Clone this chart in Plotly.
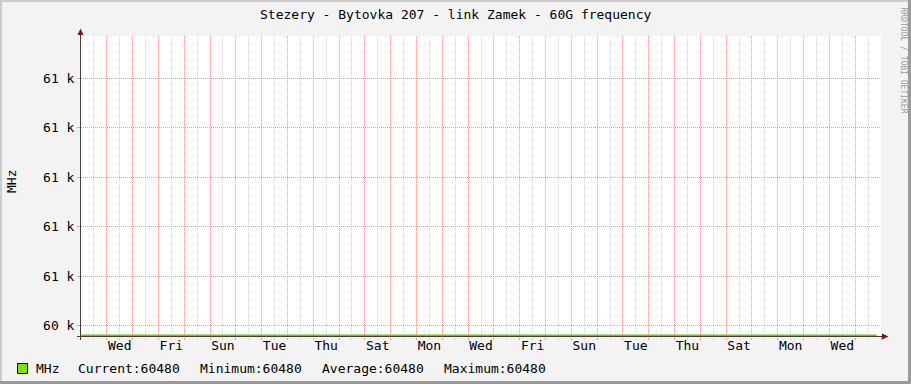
import plotly.graph_objects as go
from datetime import datetime, timedelta

# ---------------- data ----------------
sample_times = [
    "2024-01-02 00:00", "2024-01-03 00:00", "2024-01-04 00:00", "2024-01-05 00:00",
    "2024-01-06 00:00", "2024-01-07 00:00", "2024-01-08 00:00", "2024-01-09 00:00",
    "2024-01-10 00:00", "2024-01-11 00:00", "2024-01-12 00:00", "2024-01-13 00:00",
    "2024-01-14 00:00", "2024-01-15 00:00", "2024-01-16 00:00", "2024-01-17 00:00",
    "2024-01-18 00:00", "2024-01-19 00:00", "2024-01-20 00:00", "2024-01-21 00:00",
    "2024-01-22 00:00", "2024-01-23 00:00", "2024-01-24 00:00", "2024-01-25 00:00",
    "2024-01-26 00:00", "2024-01-27 00:00", "2024-01-28 00:00", "2024-01-29 00:00",
    "2024-01-30 00:00", "2024-01-31 00:00", "2024-02-01 00:00", "2024-02-01 20:00",
]
mhz_values = [
    60480, 60480, 60480, 60480, 60480, 60480, 60480, 60480,
    60480, 60480, 60480, 60480, 60480, 60480, 60480, 60480,
    60480, 60480, 60480, 60480, 60480, 60480, 60480, 60480,
    60480, 60480, 60480, 60480, 60480, 60480, 60480, 60480,
]
x_start = "2024-01-02 00:00"
x_end = "2024-02-02 00:00"
# every other day label (shown at midday)
day_label_dates = [
    "2024-01-03", "2024-01-05", "2024-01-07", "2024-01-09", "2024-01-11",
    "2024-01-13", "2024-01-15", "2024-01-17", "2024-01-19", "2024-01-21",
    "2024-01-23", "2024-01-25", "2024-01-27", "2024-01-29", "2024-01-31",
]
day_label_text = ["Wed", "Fri", "Sun", "Tue", "Thu", "Sat", "Mon", "Wed",
                  "Fri", "Sun", "Tue", "Thu", "Sat", "Mon", "Wed"]
y_tick_values = [60500, 60600, 60700, 60800, 60900, 61000]
y_tick_text = ["60 k", "61 k", "61 k", "61 k", "61 k", "61 k"]
y_range = [60477, 61085]

title_text = "Stezery - Bytovka 207 - link Zamek - 60G frequency"
y_title = "MHz"
legend_name = "MHz"
watermark = "RRDTOOL / TOBI OETIKER"

# ---------------- layout constants ----------------
W, H = 911, 384
PL, PR, PT, PB = 81, 881, 36, 337   # plot area in pixels
FONT = "DejaVu Sans Mono"
FS = 13
LINE_COLOR = "#66CC00"
SWATCH_COLOR = "#80E000"
MAJOR_GRID = "#F29A9A"
MINOR_GRID = "#D2D2D2"
AXIS_COLOR = "#4A3A3A"
ARROW_COLOR = "#7A1414"


def px(x):
    return (x - PL) / (PR - PL)


def py(y):
    return (PB - y) / (PB - PT)


# gridline positions derived from the axis range
t0 = datetime.strptime(x_start, "%Y-%m-%d %H:%M")
t1 = datetime.strptime(x_end, "%Y-%m-%d %H:%M")
n_days = (t1 - t0).days
midnights = [(t0 + timedelta(days=i)).strftime("%Y-%m-%d %H:%M") for i in range(1, n_days + 1)]
noons = [(t0 + timedelta(days=i, hours=12)).strftime("%Y-%m-%d %H:%M") for i in range(n_days)]
label_noons = [d + " 12:00" for d in day_label_dates]

fig = go.Figure()
fig.add_trace(go.Scatter(
    x=sample_times, y=mhz_values, mode="lines",
    line=dict(color=LINE_COLOR, width=2), hoverinfo="skip", showlegend=False,
))
# invisible companion trace so the label axis is drawn (own hidden y axis)
fig.add_trace(go.Scatter(
    x=[x_start, x_end], y=[None, None], mode="lines", xaxis="x2", yaxis="y2",
    hoverinfo="skip", showlegend=False,
))

fig.update_layout(
    width=W, height=H,
    margin=dict(l=PL, r=W - PR, t=PT, b=H - PB, pad=0),
    paper_bgcolor="#F3F3F3", plot_bgcolor="#FFFFFF",
    font=dict(family=FONT, size=FS, color="#000000"),
    showlegend=False,
    xaxis=dict(
        type="date", range=[x_start, x_end], showline=False, zeroline=False,
        tickmode="array", tickvals=noons, showticklabels=False,
        showgrid=True, gridcolor=MINOR_GRID, griddash="1px,1px", gridwidth=1,
        ticks="outside", ticklen=2, tickcolor=MINOR_GRID, tickwidth=1,
        minor=dict(tickmode="array", tickvals=midnights, showgrid=True,
                   gridcolor=MAJOR_GRID, griddash="1px,1px", gridwidth=1,
                   ticks="outside", ticklen=2, tickcolor=MAJOR_GRID, tickwidth=1),
        fixedrange=True,
    ),
    xaxis2=dict(
        type="date", range=[x_start, x_end], overlaying="x", anchor="free",
        position=0.003, side="bottom", showline=False, zeroline=False,
        showgrid=False, ticks="",
        tickmode="array", tickvals=label_noons, ticktext=day_label_text,
        tickfont=dict(family=FONT, size=FS, color="#000000"),
        fixedrange=True,
    ),
    yaxis=dict(
        range=y_range, showline=False, zeroline=False,
        tickmode="array", tickvals=y_tick_values, ticktext=y_tick_text,
        showgrid=True, gridcolor=MAJOR_GRID, griddash="1px,1px", gridwidth=1,
        ticks="outside", ticklen=3, tickcolor=MAJOR_GRID, tickwidth=1,
        tickfont=dict(family=FONT, size=FS, color="#000000"),
        fixedrange=True,
    ),
    yaxis2=dict(
        range=y_range, overlaying="y", visible=False, showgrid=False,
        zeroline=False, fixedrange=True,
    ),
)

shapes = []
# outer frame
shapes.append(dict(type="line", xref="paper", yref="paper", x0=px(1), x1=px(1),
                   y0=py(0), y1=py(H), line=dict(color="#CCCCCC", width=2)))
shapes.append(dict(type="line", xref="paper", yref="paper", x0=px(0), x1=px(W),
                   y0=py(1), y1=py(1), line=dict(color="#CCCCCC", width=2)))
shapes.append(dict(type="line", xref="paper", yref="paper", x0=px(W - 1.5), x1=px(W - 1.5),
                   y0=py(0), y1=py(H), line=dict(color="#9A9A9A", width=3)))
shapes.append(dict(type="line", xref="paper", yref="paper", x0=px(0), x1=px(W),
                   y0=py(H - 1.5), y1=py(H - 1.5), line=dict(color="#9A9A9A", width=3)))
# axes
shapes.append(dict(type="line", xref="paper", yref="paper", x0=px(77), x1=px(883),
                   y0=py(336.5), y1=py(336.5), line=dict(color=AXIS_COLOR, width=1)))
shapes.append(dict(type="line", xref="paper", yref="paper", x0=px(80.5), x1=px(80.5),
                   y0=py(340), y1=py(32), line=dict(color=AXIS_COLOR, width=1)))
# arrows
shapes.append(dict(type="path", xref="paper", yref="paper",
                   path=f"M {px(882)},{py(333.5)} L {px(888.5)},{py(336.5)} L {px(882)},{py(339.5)} Z",
                   fillcolor=ARROW_COLOR, line=dict(color=ARROW_COLOR, width=0)))
shapes.append(dict(type="path", xref="paper", yref="paper",
                   path=f"M {px(77.5)},{py(35)} L {px(80.5)},{py(28.5)} L {px(83.5)},{py(35)} Z",
                   fillcolor=ARROW_COLOR, line=dict(color=ARROW_COLOR, width=0)))
# legend swatch
shapes.append(dict(type="rect", xref="paper", yref="paper",
                   x0=px(17.5), x1=px(27.5), y0=py(363.5), y1=py(373.5),
                   fillcolor=SWATCH_COLOR, line=dict(color="#000000", width=1)))
fig.update_layout(shapes=shapes)

ann = []
ann.append(dict(text=title_text, x=px(W / 2), y=py(14.5), xref="paper", yref="paper",
                xanchor="center", yanchor="middle", showarrow=False,
                font=dict(family=FONT, size=FS, color="#000000")))
ann.append(dict(text=y_title, x=px(11), y=py(182), xref="paper", yref="paper",
                xanchor="center", yanchor="middle", showarrow=False, textangle=-90,
                font=dict(family=FONT, size=FS, color="#000000")))
ann.append(dict(text=watermark, x=px(902.5), y=py(60), xref="paper", yref="paper",
                xanchor="center", yanchor="middle", showarrow=False, textangle=90,
                font=dict(family=FONT, size=8, color="#9A9A9A")))

cur = mhz_values[-1]
mn = min(mhz_values)
mx = max(mhz_values)
avg = sum(mhz_values) / len(mhz_values)
legend_items = [
    (legend_name, 34),
    (f"Current:{cur:.0f}", 76),
    (f"Minimum:{mn:.0f}", 198),
    (f"Average:{avg:.0f}", 320),
    (f"Maximum:{mx:.0f}", 442),
]
for txt, xpos in legend_items:
    ann.append(dict(text=txt, x=px(xpos), y=py(368.5), xref="paper", yref="paper",
                    xanchor="left", yanchor="middle", showarrow=False,
                    font=dict(family=FONT, size=FS, color="#000000")))
fig.update_layout(annotations=ann)

fig.write_html("out.html", config={"displayModeBar": False, "staticPlot": True})
